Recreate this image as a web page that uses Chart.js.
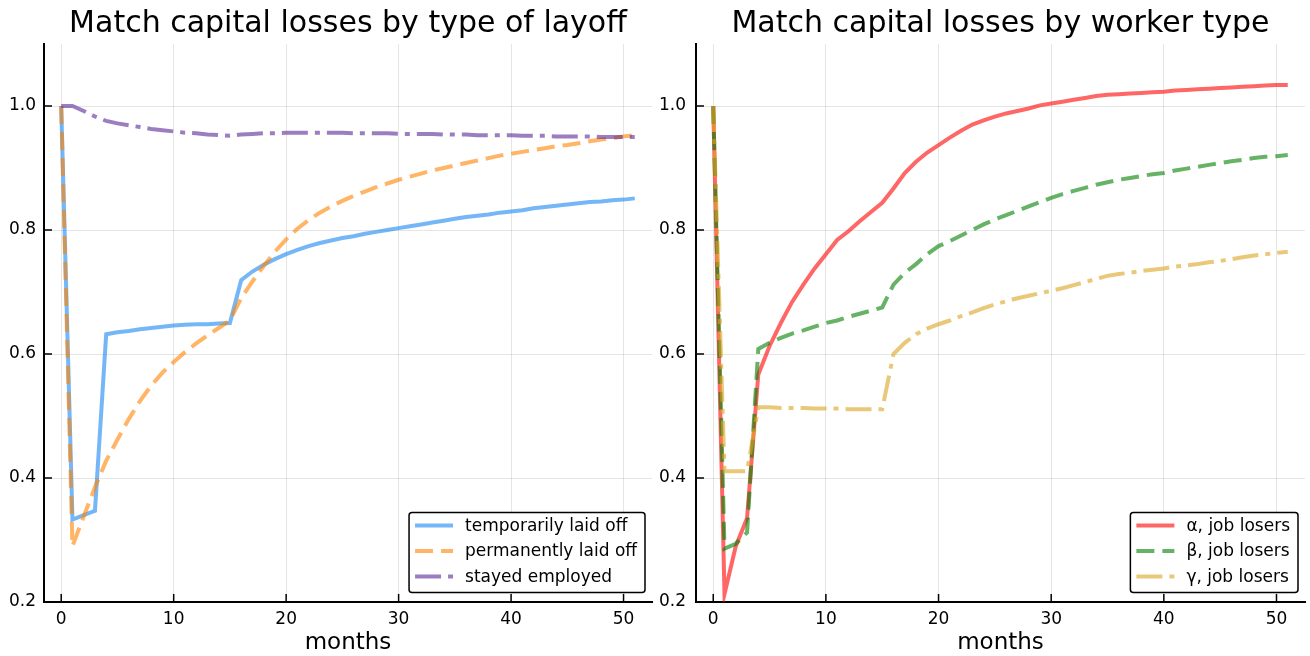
<!DOCTYPE html>
<html>
<head>
<meta charset="utf-8">
<script src="https://cdn.jsdelivr.net/npm/chart.js@4.4.1/dist/chart.umd.min.js"></script>
<style>
  body { margin: 0; background: #fff; }
  #wrap { position: relative; width: 1310px; height: 656px; }
  canvas { position: absolute; top: 0; }
</style>
</head>
<body>
<div id="wrap">
  <canvas id="layoffChart" width="655" height="656" style="left:0"></canvas>
  <canvas id="workerChart" width="655" height="656" style="left:655px"></canvas>
</div>
<script>
const months = [0, 1, 2, 3, 4, 5, 6, 7, 8, 9, 10, 11, 12, 13, 14, 15, 16, 17, 18, 19, 20, 21, 22, 23, 24, 25,
  26, 27, 28, 29, 30, 31, 32, 33, 34, 35, 36, 37, 38, 39, 40, 41, 42, 43, 44, 45, 46, 47, 48, 49, 50, 51];

const xTicks = [0, 10, 20, 30, 40, 50];
const yTicks = [0.2, 0.4, 0.6, 0.8, 1.0];

// left panel
const tempLaidOff = [1.000, 0.333, 0.340, 0.347, 0.632, 0.635, 0.637, 0.640, 0.642, 0.644,
  0.646, 0.647, 0.648, 0.648, 0.649, 0.650, 0.719, 0.733, 0.744, 0.753,
  0.761, 0.768, 0.774, 0.779, 0.783, 0.787, 0.790, 0.794, 0.797, 0.800,
  0.803, 0.806, 0.809, 0.812, 0.815, 0.818, 0.821, 0.823, 0.825, 0.828,
  0.830, 0.832, 0.835, 0.837, 0.839, 0.841, 0.843, 0.845, 0.846, 0.848, 0.849, 0.851];
const permLaidOff = [1.000, 0.290, 0.338, 0.385, 0.428, 0.462, 0.495, 0.524, 0.549, 0.570,
  0.587, 0.603, 0.617, 0.630, 0.642, 0.654, 0.690, 0.717, 0.742, 0.765,
  0.785, 0.802, 0.816, 0.828, 0.838, 0.847, 0.855, 0.862, 0.869, 0.875,
  0.881, 0.886, 0.891, 0.896, 0.900, 0.904, 0.908, 0.912, 0.916, 0.920,
  0.923, 0.926, 0.929, 0.932, 0.935, 0.937, 0.940, 0.943, 0.946, 0.948, 0.951, 0.953];
const stayedEmployed = [1.000, 1.000, 0.992, 0.983, 0.976, 0.972, 0.969, 0.966, 0.963, 0.961,
  0.959, 0.957, 0.956, 0.954, 0.953, 0.952, 0.954, 0.955, 0.956, 0.956,
  0.957, 0.957, 0.957, 0.957, 0.957, 0.957, 0.956, 0.956, 0.956, 0.956,
  0.955, 0.955, 0.955, 0.955, 0.954, 0.954, 0.954, 0.953, 0.953, 0.953,
  0.953, 0.952, 0.952, 0.952, 0.951, 0.951, 0.951, 0.951, 0.950, 0.950, 0.950, 0.950];

// right panel
const alphaLosers = [1.000, 0.213, 0.290, 0.335, 0.567, 0.613, 0.650, 0.684, 0.712, 0.738,
  0.761, 0.784, 0.798, 0.814, 0.829, 0.844, 0.867, 0.892, 0.910, 0.925,
  0.937, 0.949, 0.960, 0.970, 0.977, 0.983, 0.988, 0.992, 0.996, 1.001,
  1.004, 1.007, 1.010, 1.013, 1.016, 1.018, 1.019, 1.020, 1.021, 1.022,
  1.023, 1.025, 1.026, 1.027, 1.028, 1.029, 1.030, 1.031, 1.032, 1.033, 1.034, 1.034];
const betaLosers = [1.000, 0.286, 0.294, 0.312, 0.608, 0.618, 0.626, 0.633, 0.638, 0.644,
  0.650, 0.654, 0.660, 0.665, 0.670, 0.675, 0.712, 0.731, 0.745, 0.761,
  0.774, 0.782, 0.791, 0.800, 0.809, 0.817, 0.824, 0.831, 0.838, 0.845,
  0.852, 0.858, 0.863, 0.868, 0.873, 0.877, 0.881, 0.884, 0.887, 0.890,
  0.892, 0.896, 0.899, 0.902, 0.905, 0.908, 0.911, 0.913, 0.916, 0.918, 0.919, 0.921];
const gammaLosers = [1.000, 0.411, 0.411, 0.411, 0.514, 0.514, 0.513, 0.513, 0.513, 0.512,
  0.512, 0.512, 0.511, 0.511, 0.511, 0.511, 0.600, 0.618, 0.632, 0.641,
  0.648, 0.654, 0.661, 0.667, 0.674, 0.680, 0.685, 0.690, 0.694, 0.698,
  0.702, 0.706, 0.711, 0.716, 0.721, 0.726, 0.729, 0.731, 0.734, 0.736,
  0.738, 0.741, 0.743, 0.745, 0.748, 0.750, 0.753, 0.756, 0.759, 0.761, 0.763, 0.765];

const FONT = "'DejaVu Sans', sans-serif";
const DASH = [18, 8];
const DASHDOT = [26, 7, 5, 7];

function pts(vals) {
  return months.map((m, i) => ({ x: m, y: vals[i] }));
}

function line(label, vals, color, dash, order) {
  return {
    label: label,
    data: pts(vals),
    borderColor: color,
    borderWidth: 4,
    borderDash: dash,
    pointRadius: 0,
    tension: 0,
    fill: false,
    order: order,
  };
}

// title, inward ticks and boxed legend, like the plot this copies
const framePlugin = {
  id: "frame",
  afterDraw(chart, args, opts) {
    const ctx = chart.ctx;
    const area = chart.chartArea;
    const xs = chart.scales.x;
    const ys = chart.scales.y;
    ctx.save();
    ctx.setLineDash([]);
    ctx.strokeStyle = "#000";
    ctx.lineWidth = 1.5;
    xTicks.forEach(function (v) {
      const px = xs.getPixelForValue(v);
      ctx.beginPath();
      ctx.moveTo(px, area.bottom);
      ctx.lineTo(px, area.bottom - 8);
      ctx.stroke();
    });
    yTicks.forEach(function (v) {
      const py = ys.getPixelForValue(v);
      ctx.beginPath();
      ctx.moveTo(area.left, py);
      ctx.lineTo(area.left + 8, py);
      ctx.stroke();
    });

    ctx.fillStyle = "#000";
    ctx.font = "30px " + FONT;
    ctx.textAlign = "center";
    ctx.textBaseline = "alphabetic";
    ctx.fillText(opts.title, (area.left + area.right) / 2, 32);

    // legend
    const sets = chart.data.datasets;
    ctx.font = "17px " + FONT;
    let tw = 0;
    sets.forEach(function (d) { tw = Math.max(tw, ctx.measureText(d.label).width); });
    const boxW = 6 + 38 + 12 + tw + 8;
    const boxH = 80;
    const x1 = area.right - 7 - boxW;
    const y1 = area.bottom - 9.5 - boxH;
    ctx.beginPath();
    ctx.roundRect(x1, y1, boxW, boxH, 3);
    ctx.fillStyle = "#fff";
    ctx.fill();
    ctx.lineWidth = 1.5;
    ctx.strokeStyle = "#000";
    ctx.stroke();
    ctx.textAlign = "left";
    ctx.textBaseline = "middle";
    sets.forEach(function (d, i) {
      const yy = y1 + 13 + i * 25.5;
      ctx.beginPath();
      ctx.setLineDash(d.borderDash);
      ctx.strokeStyle = d.borderColor;
      ctx.lineWidth = 4;
      ctx.moveTo(x1 + 6, yy);
      ctx.lineTo(x1 + 44, yy);
      ctx.stroke();
      ctx.setLineDash([]);
      ctx.fillStyle = "#000";
      ctx.fillText(d.label, x1 + 56, yy + 1);
    });
    ctx.restore();
  },
};

function makeOptions(title, yWidth, yPad, rightPad) {
  return {
    responsive: false,
    animation: false,
    devicePixelRatio: 1,
    layout: { padding: { top: 44, right: rightPad, left: 0, bottom: 0 } },
    scales: {
      x: {
        type: "linear",
        min: -1.53,
        max: 52.53,
        afterBuildTicks: function (s) { s.ticks = xTicks.map(function (v) { return { value: v }; }); },
        afterFit: function (s) { s.height = 54; },
        grid: { color: "rgba(0,0,0,0.1)", lineWidth: 1, drawTicks: false },
        border: { display: true, color: "#000", width: 2 },
        ticks: { color: "#000", font: { family: FONT, size: 17 }, padding: 7, maxRotation: 0 },
        title: { display: true, text: "months", color: "#000", font: { family: FONT, size: 23 }, padding: { top: 0, bottom: -1 } },
      },
      y: {
        type: "linear",
        min: 0.2,
        max: 1.1,
        afterBuildTicks: function (s) { s.ticks = yTicks.map(function (v) { return { value: v }; }); },
        afterFit: function (s) { s.width = yWidth; },
        grid: { color: "rgba(0,0,0,0.1)", lineWidth: 1, drawTicks: false },
        border: { display: true, color: "#000", width: 2 },
        ticks: {
          color: "#000",
          font: { family: FONT, size: 17 },
          padding: yPad,
          callback: function (value) { return value.toFixed(1); },
        },
      },
    },
    plugins: {
      legend: { display: false },
      title: { display: false },
      tooltip: { enabled: false },
      frame: { title: title },
    },
  };
}

new Chart(document.getElementById("layoffChart"), {
  type: "line",
  data: {
    datasets: [
      line("temporarily laid off", tempLaidOff, "rgba(25,135,240,0.6)", [], 3),
      line("permanently laid off", permLaidOff, "rgba(255,130,0,0.6)", DASH, 2),
      line("stayed employed", stayedEmployed, "rgba(90,40,150,0.6)", DASHDOT, 1),
    ],
  },
  options: makeOptions("Match capital losses by type of layoff", 44, 8, 3),
  plugins: [framePlugin],
});

new Chart(document.getElementById("workerChart"), {
  type: "line",
  data: {
    datasets: [
      line("α, job losers", alphaLosers, "rgba(255,0,0,0.6)", [], 3),
      line("β, job losers", betaLosers, "rgba(0,128,0,0.6)", DASH, 2),
      line("γ, job losers", gammaLosers, "rgba(218,165,32,0.6)", DASHDOT, 1),
    ],
  },
  options: makeOptions("Match capital losses by worker type", 41, 10, 5),
  plugins: [framePlugin],
});
</script>
</body>
</html>
